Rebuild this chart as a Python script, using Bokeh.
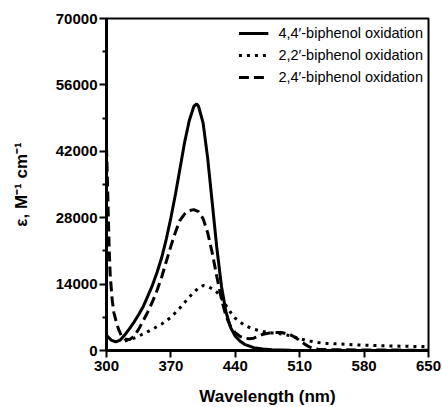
from bokeh.plotting import figure
from bokeh.models import FixedTicker, Range1d, Legend, LegendItem
from bokeh.embed import file_html
from bokeh.resources import INLINE

# 4,4'-biphenol oxidation (solid)
wl_44 = [300, 305, 310, 315, 320, 325, 330, 335, 340, 345, 350, 355, 360, 365, 370, 375,
         380, 385, 390, 395, 398, 400, 405, 410, 415, 420, 425, 430, 435, 440, 445, 450,
         460, 470, 480, 500, 550, 650]
eps_44 = [3200, 2200, 1800, 2200, 3300, 4600, 6000, 7600, 9300, 11500, 13800, 16500, 19600,
          23500, 28000, 33000, 38500, 44000, 48500, 51500, 52000, 51500, 48000, 40500, 31000,
          21500, 13500, 8000, 4800, 3000, 2000, 1300, 600, 300, 150, 50, 0, 0]

# 2,2'-biphenol oxidation (dotted)
wl_22 = [320, 330, 340, 350, 360, 370, 380, 390, 400, 405, 410, 415, 420, 425, 430, 435,
         440, 450, 460, 470, 480, 490, 500, 510, 520, 530, 540, 550, 570, 600, 650]
eps_22 = [2000, 2600, 3500, 4500, 5600, 7000, 9000, 11300, 13200, 13700, 13500, 13000,
          12300, 11000, 9500, 8000, 6800, 5300, 4500, 4000, 3700, 3500, 3100, 2500, 2000,
          1700, 1500, 1400, 1200, 1000, 800]

# 2,4'-biphenol oxidation (dashed)
wl_24 = [300, 301, 302, 303, 304, 306, 308, 310, 313, 316, 320, 325, 330, 335, 340, 345,
         350, 355, 360, 365, 370, 375, 380, 385, 390, 395, 400, 405, 410, 415, 420, 425,
         430, 435, 440, 445, 450, 455, 460, 465, 470, 480, 490, 500, 505, 510, 515, 520,
         525, 530, 550, 600, 650]
eps_24 = [43000, 36000, 28000, 21000, 16000, 11000, 8000, 6500, 4500, 3200, 2400, 2300,
          3000, 4500, 6300, 8200, 10300, 12700, 15500, 18800, 22000, 25000, 27500, 28800,
          29500, 29700, 29300, 27800, 24800, 20500, 15500, 10800, 7200, 5000, 3700, 3000,
          2600, 2500, 2600, 3000, 3400, 3800, 3800, 3300, 2800, 2100, 1400, 800, 400, 250,
          150, 100, 50]

x_ticks = [300, 370, 440, 510, 580, 650]
y_ticks = [0, 14000, 28000, 42000, 56000, 70000]
y_minor = [7000, 21000, 35000, 49000, 63000]

labels = ["4,4\u2032-biphenol oxidation", "2,2\u2032-biphenol oxidation", "2,4\u2032-biphenol oxidation"]

p = figure(width=442, height=407, output_backend="svg", toolbar_location=None,
           x_range=Range1d(300, 650), y_range=Range1d(0, 70000),
           frame_width=322, frame_height=332,
           min_border_left=106, min_border_right=14, min_border_top=18, min_border_bottom=57)
p.background_fill_color = "white"
p.border_fill_color = "white"
p.outline_line_color = "black"
p.outline_line_width = 2
p.grid.visible = False

r1 = p.line(wl_44, eps_44, line_color="black", line_width=3)
r2 = p.line(wl_22, eps_22, line_color="black", line_width=3, line_dash="3 5")
r3 = p.line(wl_24, eps_24, line_color="black", line_width=3, line_dash="10 5")

font = "Liberation Sans"
for ax in (p.xaxis[0], p.yaxis[0]):
    ax.axis_line_width = 3
    ax.axis_line_color = "black"
    ax.major_tick_line_width = 2
    ax.minor_tick_line_width = 2
    ax.major_tick_in = 0
    ax.major_tick_out = 7
    ax.minor_tick_in = 0
    ax.minor_tick_out = 4
    ax.major_label_text_font = font
    ax.major_label_text_font_style = "bold"
    ax.major_label_text_font_size = "15px"
    ax.major_label_text_color = "black"
    ax.axis_label_text_font = font
    ax.axis_label_text_font_style = "bold"
    ax.axis_label_text_font_size = "17px"
    ax.axis_label_text_color = "black"

p.xaxis[0].ticker = FixedTicker(ticks=x_ticks)
p.yaxis[0].ticker = FixedTicker(ticks=y_ticks, minor_ticks=y_minor)
p.xaxis[0].major_label_standoff = 3
p.yaxis[0].major_label_standoff = 2
p.xaxis[0].axis_label = "Wavelength (nm)"
p.yaxis[0].axis_label = "\u03b5, M\u207b\u00b9 cm\u207b\u00b9"
p.xaxis[0].axis_label_standoff = 13
p.yaxis[0].axis_label_standoff = 22

legend = Legend(items=[LegendItem(label=labels[0], renderers=[r1]),
                       LegendItem(label=labels[1], renderers=[r2]),
                       LegendItem(label=labels[2], renderers=[r3])],
                location="top_right")
legend.border_line_color = None
legend.background_fill_alpha = 0
legend.margin = 5
legend.padding = 4
legend.spacing = 2
legend.glyph_width = 30
legend.glyph_height = 20
legend.label_height = 20
legend.label_standoff = 10
legend.label_text_font = font
legend.label_text_font_size = "14.5px"
legend.label_text_color = "black"
p.add_layout(legend)

open("out.html", "w").write(file_html(p, INLINE))
